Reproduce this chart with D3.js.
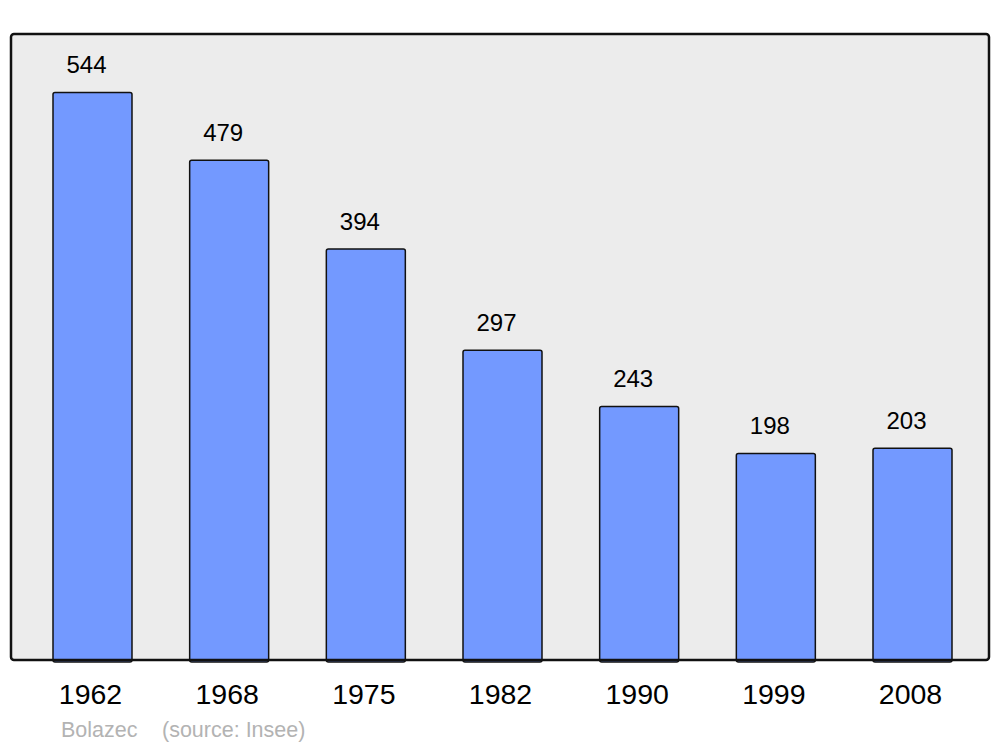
<!DOCTYPE html>
<html>
<head>
<meta charset="utf-8">
<script src="https://cdn.jsdelivr.net/npm/d3@7"></script>
<style>
  body { margin: 0; background: #fff; }
  text { font-family: "Liberation Sans", Arial, sans-serif; }
</style>
</head>
<body>
<svg width="1000" height="747"></svg>
<script>
const years = ["1962", "1968", "1975", "1982", "1990", "1999", "2008"]
const population = [544, 479, 394, 297, 243, 198, 203]
const yDomain = [0, 600]

const svg = d3.select("svg")
const frame = { left: 11, right: 989, top: 34, bottom: 660 }

const xScale = d3.scaleBand().domain(years).range([53, 952]).paddingInner(0.422).paddingOuter(0)
const yScale = d3.scaleLinear().domain(yDomain).range([frame.bottom, frame.top])

// background frame
svg.append("rect")
  .attr("x", frame.left)
  .attr("y", frame.top)
  .attr("width", frame.right - frame.left)
  .attr("height", frame.bottom - frame.top)
  .attr("rx", 3)
  .attr("fill", "#ececec")

const data = years.map((y, i) => ({ year: y, value: population[i] }))

svg.selectAll(".bar")
  .data(data)
  .join("rect")
  .attr("class", "bar")
  .attr("x", d => xScale(d.year))
  .attr("y", d => yScale(d.value))
  .attr("width", xScale.bandwidth())
  .attr("height", d => frame.bottom - yScale(d.value) + 2)
  .attr("rx", 2)
  .attr("fill", "#7399ff")
  .attr("stroke", "#111")
  .attr("stroke-width", 1.5)

// frame border on top so bar bottoms sit under it
svg.append("rect")
  .attr("x", frame.left)
  .attr("y", frame.top)
  .attr("width", frame.right - frame.left)
  .attr("height", frame.bottom - frame.top)
  .attr("rx", 3)
  .attr("fill", "none")
  .attr("stroke", "#111")
  .attr("stroke-width", 2.5)

svg.selectAll(".val")
  .data(data)
  .join("text")
  .attr("class", "val")
  .attr("x", d => xScale(d.year) + xScale.bandwidth() / 2 - 6)
  .attr("y", d => yScale(d.value) - 19)
  .attr("text-anchor", "middle")
  .attr("font-size", 24)
  .attr("fill", "#000")
  .text(d => d.value)

// x axis labels
const axis = svg.append("g")
  .attr("transform", "translate(-2," + (frame.bottom + 24) + ")")
  .call(d3.axisBottom(xScale).tickSize(0).tickPadding(0))
axis.select(".domain").remove()
axis.selectAll("text")
  .attr("font-size", 28.5)
  .attr("font-family", "Liberation Sans, Arial, sans-serif")
  .attr("fill", "#000")

svg.append("text")
  .attr("x", 61)
  .attr("y", 737)
  .attr("font-size", 21.5)
  .attr("fill", "#b3b3b3")
  .text("Bolazec")

svg.append("text")
  .attr("x", 162)
  .attr("y", 737)
  .attr("font-size", 21.5)
  .attr("fill", "#b3b3b3")
  .text("(source: Insee)")
</script>
</body>
</html>
